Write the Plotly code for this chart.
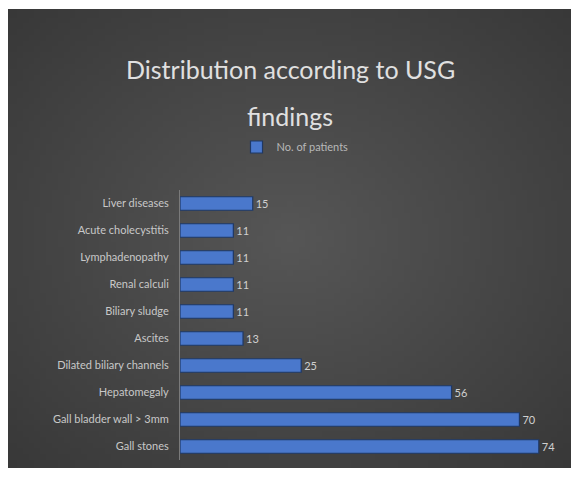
import base64
import struct
import zlib

import plotly.graph_objects as go

# USG findings (bottom to top as drawn) and number of patients
findings = [
    "Gall stones",
    "Gall bladder wall > 3mm",
    "Hepatomegaly",
    "Dilated biliary channels",
    "Ascites",
    "Biliary sludge",
    "Renal calculi",
    "Lymphadenopathy",
    "Acute cholecystitis",
    "Liver diseases",
]
patients = [74, 70, 56, 25, 13, 11, 11, 11, 11, 15]

W, H = 579, 477
ML, MR, MT, MB = 180, 14, 190, 17
pw, ph = W - ML - MR, H - MT - MB
FONT = "Lato"


def px_x(x):
    return (x - ML) / pw


def px_y(y):
    return (H - MB - y) / ph


def radial_png(w, h, inner, outer):
    """Small grey radial-gradient PNG as a data URI (stretched as background)."""
    rows = b""
    for j in range(h):
        rows += b"\x00"
        for i in range(w):
            dx = (i + 0.5) / w - 0.5
            dy = (j + 0.5) / h - 0.5
            t = min(1.0, ((dx * dx + dy * dy) ** 0.5) / 0.707)
            v = int(round(inner + (outer - inner) * t))
            rows += bytes([v, v, v])

    def chunk(tag, data):
        c = tag + data
        return struct.pack(">I", len(data)) + c + struct.pack(">I", zlib.crc32(c) & 0xFFFFFFFF)

    png = b"\x89PNG\r\n\x1a\n"
    png += chunk(b"IHDR", struct.pack(">IIBBBBB", w, h, 8, 2, 0, 0, 0))
    png += chunk(b"IDAT", zlib.compress(rows))
    png += chunk(b"IEND", b"")
    return "data:image/png;base64," + base64.b64encode(png).decode()


fig = go.Figure()

fig.add_trace(go.Bar(
    y=findings,
    x=patients,
    orientation="h",
    name="No. of patients",
    marker=dict(color="#4a78cc", line=dict(color="#1f3864", width=1.2)),
    text=patients,
    textposition="outside",
    textfont=dict(color="#d0d0d0", size=11, family=FONT),
    cliponaxis=False,
))

# dark chart area with a soft vignette, inside a thin white frame
x0, x1, y0, y1 = px_x(8), px_x(571), px_y(468), px_y(9)
fig.add_layout_image(
    source=radial_png(96, 80, 86, 56),
    xref="paper", yref="paper", x=x0, y=y1,
    sizex=x1 - x0, sizey=y1 - y0, sizing="stretch",
    xanchor="left", yanchor="top", layer="below",
)

for txt, yy in [("Distribution according to USG", 69), ("findings", 116)]:
    fig.add_annotation(
        text=txt, xref="paper", yref="paper",
        x=px_x(290), y=px_y(yy), xanchor="center", yanchor="middle",
        showarrow=False,
        font=dict(size=25, color="#e0e0e0", family=FONT),
    )

fig.update_layout(
    width=W, height=H,
    margin=dict(l=ML, r=MR, t=MT, b=MB),
    paper_bgcolor="white",
    plot_bgcolor="rgba(0,0,0,0)",
    bargap=0.5,
    showlegend=True,
    legend=dict(
        orientation="h", xanchor="center", yanchor="middle",
        x=px_x(295), y=px_y(147),
        font=dict(size=11, color="#b8b8b8", family=FONT),
        bgcolor="rgba(0,0,0,0)",
        itemwidth=30,
    ),
    xaxis=dict(range=[0, 79.4], visible=False),
    yaxis=dict(
        categoryorder="array", categoryarray=findings,
        showline=True, linecolor="#7a7a7a", linewidth=1,
        ticks="", showgrid=False,
        tickfont=dict(size=11, color="#c8c8c8", family=FONT),
        ticklabelstandoff=8,
    ),
)

fig.write_html("out.html")
